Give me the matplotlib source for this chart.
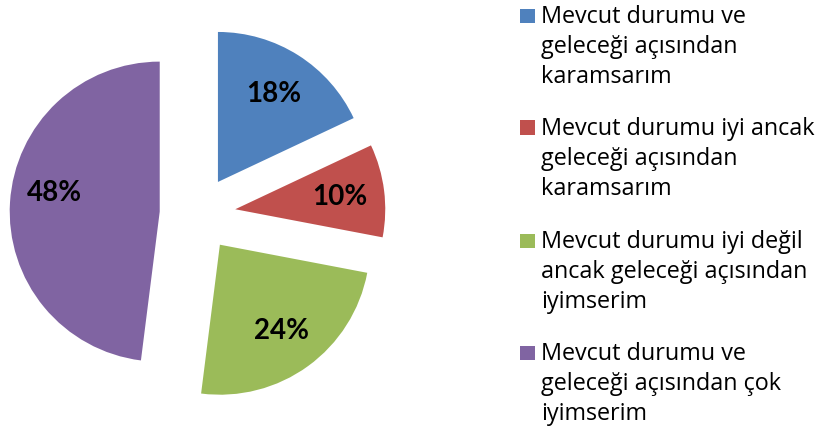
import matplotlib
matplotlib.use("Agg")
import matplotlib.pyplot as plt
from matplotlib.patches import Rectangle

categories = [
    "Mevcut durumu ve\ngeleceği açısından\nkaramsarım",
    "Mevcut durumu iyi ancak\ngeleceği açısından\nkaramsarım",
    "Mevcut durumu iyi değil\nancak geleceği açısından\niyimserim",
    "Mevcut durumu ve\ngeleceği açısından çok\niyimserim",
]
values = [18, 10, 24, 48]
colors = ["#4F81BD", "#C0504D", "#9BBB59", "#8064A2"]

W, H = 819, 435
fig = plt.figure(figsize=(W / 100, H / 100), dpi=100)
ax = fig.add_axes([0, 0, 1, 1])

R = 150.0
cx, cy = 197.6, 215.0  # pixel centre (from top)

wedges, texts, autotexts = ax.pie(
    values, colors=colors, startangle=90, counterclock=False,
    explode=[0.253] * len(values), autopct="%d%%", pctdistance=0.7,
    wedgeprops=dict(linewidth=0),
    textprops=dict(fontsize=20, fontweight="bold", color="black", family="Lato"),
)
ax.set_xlim(-cx / R, (W - cx) / R)
ax.set_ylim(-(H - cy) / R, cy / R)
ax.set_aspect("auto")
ax.axis("off")

x, y = autotexts[3].get_position()
autotexts[3].set_position((x, y + 0.09))

first_baselines = [23, 135, 248, 360]
for i, (lab, w) in enumerate(zip(categories, wedges)):
    b = first_baselines[i]
    fig.patches.append(Rectangle((520 / W, 1 - (b + 0.5) / H), 15 / W, 14 / H,
                                 transform=fig.transFigure, facecolor=w.get_facecolor(),
                                 edgecolor="none"))
    for j, line in enumerate(lab.split("\n")):
        fig.text(541 / W, 1 - (b + 30 * j) / H, line, fontsize=16.8, family="Open Sans",
                 va="baseline", ha="left", color="black")

fig.savefig("out.png", dpi=100)
